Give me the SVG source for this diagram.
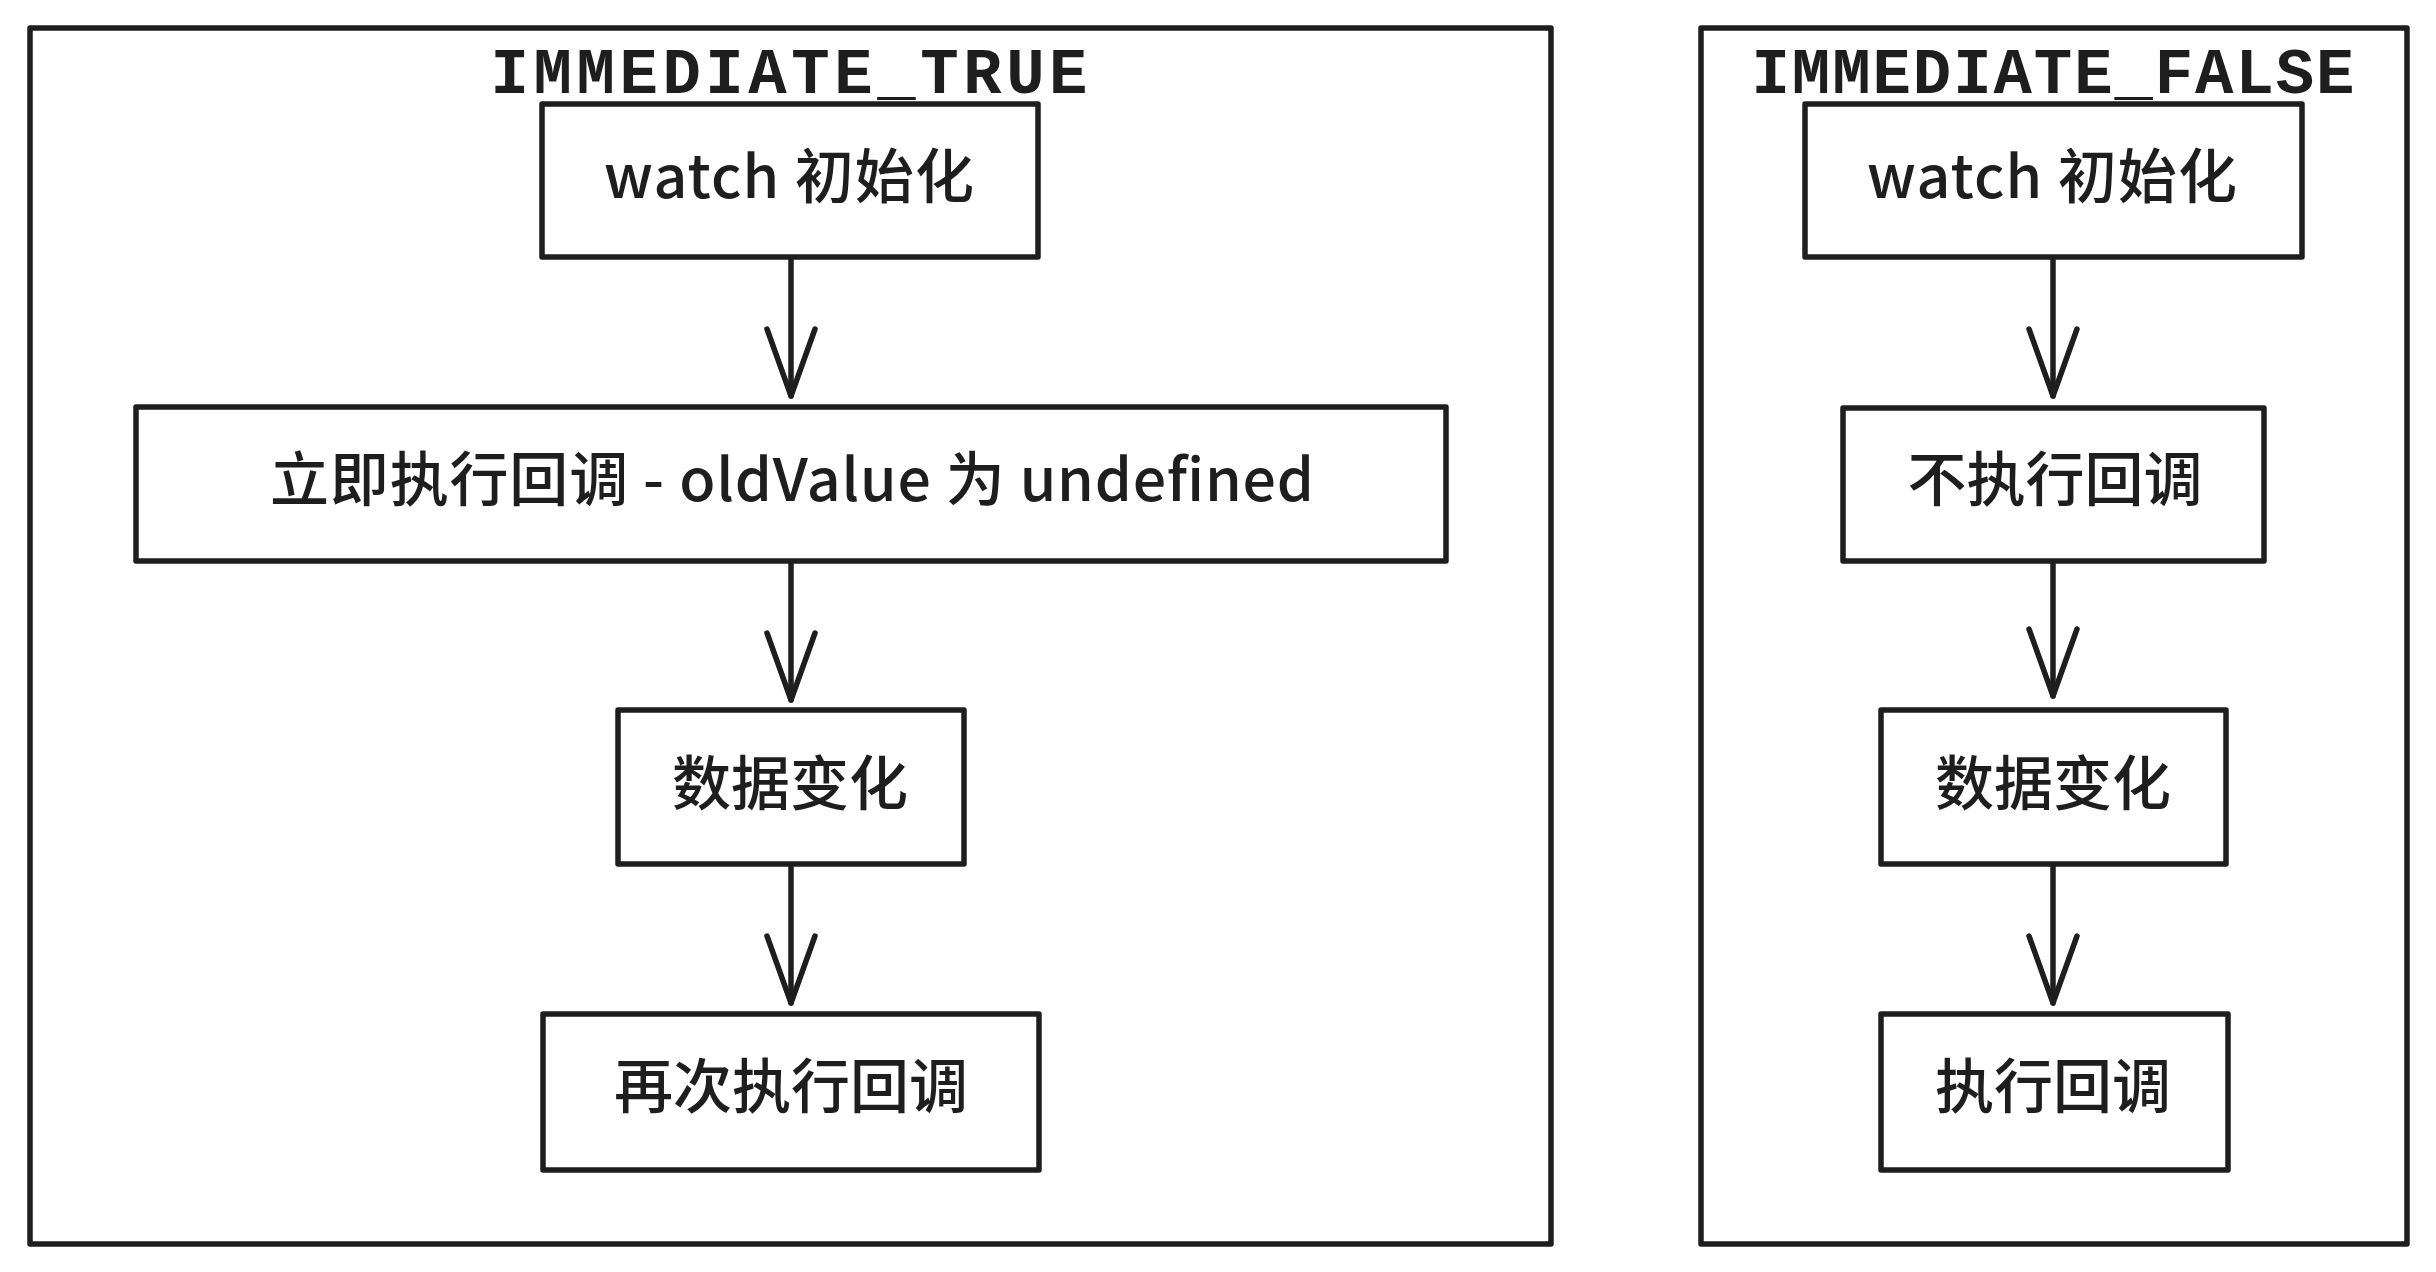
<svg xmlns="http://www.w3.org/2000/svg" width="2436" height="1272" viewBox="0 0 2436 1272">
  <defs>
    <style>
      .frame { fill: none; stroke: #1e1e1e; stroke-width: 5.5; stroke-linejoin: round; }
      .box { fill: #ffffff; stroke: #1e1e1e; stroke-width: 5.5; stroke-linejoin: round; }
      .title { font-family: "Liberation Mono", "DejaVu Sans Mono", monospace; font-size: 64px; font-weight: bold; fill: #1e1e1e; text-anchor: middle; }
      .label { font-family: "Noto Sans CJK SC", "Noto Sans", sans-serif; font-size: 59px; font-weight: 500; fill: #1e1e1e; text-anchor: middle; }
      .edge { fill: none; stroke: #1e1e1e; stroke-width: 5.5; stroke-linecap: round; }
    </style>
    <marker id="arrow" viewBox="-75 -30 85 60" refX="0" refY="0" markerWidth="85" markerHeight="60" markerUnits="userSpaceOnUse" orient="auto">
      <path d="M -67 -24 L 0 0 L -67 24" fill="none" stroke="#1e1e1e" stroke-width="5.5" stroke-linecap="round" stroke-linejoin="round"/>
    </marker>
  </defs>
  <rect x="0" y="0" width="2436" height="1272" fill="#ffffff"/>

  <g id="connectors">
    <line class="edge" x1="791" y1="258" x2="791" y2="396" marker-end="url(#arrow)"/>
    <line class="edge" x1="791" y1="562" x2="791" y2="700" marker-end="url(#arrow)"/>
    <line class="edge" x1="791" y1="865" x2="791" y2="1003" marker-end="url(#arrow)"/>
    <line class="edge" x1="2053" y1="258" x2="2053" y2="396" marker-end="url(#arrow)"/>
    <line class="edge" x1="2053" y1="562" x2="2053" y2="696" marker-end="url(#arrow)"/>
    <line class="edge" x1="2053" y1="865" x2="2053" y2="1003" marker-end="url(#arrow)"/>
  </g>

  <g id="node-true-init">
    <rect class="box" x="542" y="104" width="496" height="153"/>
    <text class="label" x="789" y="198" textLength="370" lengthAdjust="spacing">watch 初始化</text>
  </g>
  <g id="node-true-callback">
    <rect class="box" x="136" y="407" width="1310" height="154"/>
    <text class="label" x="792" y="501" textLength="1044" lengthAdjust="spacing">立即执行回调 - oldValue 为 undefined</text>
  </g>
  <g id="node-true-change">
    <rect class="box" x="618" y="710" width="346" height="154"/>
    <text class="label" x="790" y="805">数据变化</text>
  </g>
  <g id="node-true-again">
    <rect class="box" x="543" y="1014" width="496" height="156"/>
    <text class="label" x="791" y="1108">再次执行回调</text>
  </g>

  <g id="node-false-init">
    <rect class="box" x="1805" y="104" width="497" height="153"/>
    <text class="label" x="2052" y="198" textLength="370" lengthAdjust="spacing">watch 初始化</text>
  </g>
  <g id="node-false-skip">
    <rect class="box" x="1843" y="408" width="421" height="153"/>
    <text class="label" x="2055" y="501">不执行回调</text>
  </g>
  <g id="node-false-change">
    <rect class="box" x="1881" y="710" width="345" height="154"/>
    <text class="label" x="2053" y="805">数据变化</text>
  </g>
  <g id="node-false-callback">
    <rect class="box" x="1881" y="1014" width="347" height="156"/>
    <text class="label" x="2053" y="1108">执行回调</text>
  </g>

  <g id="frame-immediate-true">
    <rect class="frame" x="30" y="28" width="1521" height="1216"/>
    <text class="title" x="789" y="93" textLength="597" lengthAdjust="spacing">IMMEDIATE_TRUE</text>
  </g>
  <g id="frame-immediate-false">
    <rect class="frame" x="1701" y="28" width="706" height="1216"/>
    <text class="title" x="2053" y="93" textLength="603" lengthAdjust="spacing">IMMEDIATE_FALSE</text>
  </g>
</svg>
